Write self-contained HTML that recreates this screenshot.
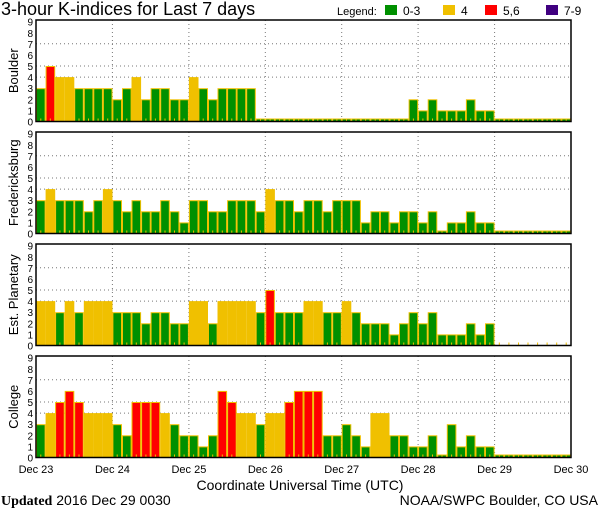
<!DOCTYPE html>
<html><head><meta charset="utf-8"><style>
body{margin:0;background:#fff;width:600px;height:510px;overflow:hidden}
svg{display:block}
text{font-family:"Liberation Sans",sans-serif}
</style></head><body>
<svg id="s" width="600" height="510" xmlns="http://www.w3.org/2000/svg"></svg>
<script>
const S=document.getElementById('s');let h='';
const X0=36,X1=571,bw=(X1-X0)/56,dw=(X1-X0)/7;
const C={g:'#009000',y:'#f0c000',r:'#ff0000',p:'#400080'};
function col(v){return v<=3?C.g:v==4?C.y:v<=6?C.r:C.p;}
const N=null;
const data=[
["Boulder",20,[3,5,4,4,3,3,3,3, 2,3,4,2,3,3,2,2, 4,3,2,3,3,3,3,0, 0,0,0,0,0,0,0,0, 0,0,0,0,0,0,0,2, 1,2,1,1,1,2,1,1, 0,0,0,0,0,0,0,0]],
["Fredericksburg",132,[3,4,3,3,3,2,3,4, 3,2,3,2,2,3,2,1, 3,3,2,2,3,3,3,2, 4,3,3,2,3,3,2,3, 3,3,1,2,2,1,2,2, 1,2,0,1,1,2,1,1, 0,0,0,0,0,0,0,0]],
["Est. Planetary",244,[4,4,3,4,3,4,4,4, 3,3,3,2,3,3,2,2, 4,4,2,4,4,4,4,3, 5,3,3,3,4,4,3,3, 4,3,2,2,2,1,2,3, 2,3,1,1,1,2,1,2, N,N,N,N,N,N,N,N]],
["College",356,[3,4,5,6,5,4,4,4, 3,2,5,5,5,4,3,2, 2,1,2,6,5,4,4,3, 4,4,5,6,6,6,2,2, 3,2,1,4,4,2,2,1, 1,2,0,3,1,2,1,1, 0,0,0,0,0,0,0,0]]];
const H=101.5,u=H/9.15;
data.forEach(([name,top,vals])=>{
 const B=top+H;
 [4,5,7].forEach(l=>{const y=(B-l*u).toFixed(1);h+=`<line x1="${X0}" x2="${X1}" y1="${y}" y2="${y}" stroke="#777" stroke-dasharray="1,3"/>`;});
 for(let d=1;d<7;d++){const x=(X0+d*dw).toFixed(1);h+=`<line x1="${x}" x2="${x}" y1="${top}" y2="${B}" stroke="#777" stroke-dasharray="1,3"/>`;}
 vals.forEach((v,i)=>{const x=X0+i*bw;
  if(v===null){h+=`<line x1="${(x+bw/2).toFixed(1)}" x2="${(x+bw/2).toFixed(1)}" y1="${B-3}" y2="${B}" stroke="${C.y}"/>`;return;}
  const hh=v==0?3:v*u;
  h+=`<rect x="${(x+0.5).toFixed(1)}" y="${(B-hh+0.5).toFixed(1)}" width="${(bw-1).toFixed(1)}" height="${(hh-0.5).toFixed(1)}" fill="${col(v)}" stroke="${C.y}" stroke-width="1"/>`;
  h+=`<line x1="${(x+bw/2).toFixed(1)}" x2="${(x+bw/2).toFixed(1)}" y1="${B-3}" y2="${B}" stroke="${C.y}"/>`;
 });
 h+=`<rect x="${X0}" y="${top}" width="${X1-X0}" height="${H}" fill="none" stroke="#000" stroke-width="1.5"/>`;
 for(let l=0;l<=9;l++){h+=`<text x="33" y="${(B-l*u+4).toFixed(1)}" font-size="10" text-anchor="end">${l}</text>`;}
 const cy=top+H/2;
 h+=`<text transform="translate(18,${cy}) rotate(-90)" font-size="13" text-anchor="middle">${name}</text>`;
});
const lab=["Dec 23","Dec 24","Dec 25","Dec 26","Dec 27","Dec 28","Dec 29","Dec 30"];
lab.forEach((t,d)=>{h+=`<text x="${(X0+d*dw).toFixed(1)}" y="473" font-size="11" text-anchor="middle">${t}</text>`;});
h+=`<text x="300" y="490" font-size="14" text-anchor="middle">Coordinate Universal Time (UTC)</text>`;
h+=`<text x="1" y="505" font-size="14"><tspan font-family="Liberation Serif" font-weight="bold">Updated</tspan> 2016 Dec 29 0030</text>`;
h+=`<text x="598" y="505" font-size="14" text-anchor="end">NOAA/SWPC Boulder, CO USA</text>`;
h+=`<text x="1" y="15" font-size="18">3-hour K-indices for Last 7 days</text>`;
h+=`<text x="337" y="15" font-size="11">Legend:</text>`;
[[385,C.g,"0-3"],[443,C.y,"4"],[485,C.r,"5,6"],[546,C.p,"7-9"]].forEach(([x,c,t])=>{
 h+=`<rect x="${x}" y="5" width="12" height="10" fill="${c}"/><text x="${x+18}" y="15" font-size="12">${t}</text>`;});
S.innerHTML=h;
</script>
</body></html>
